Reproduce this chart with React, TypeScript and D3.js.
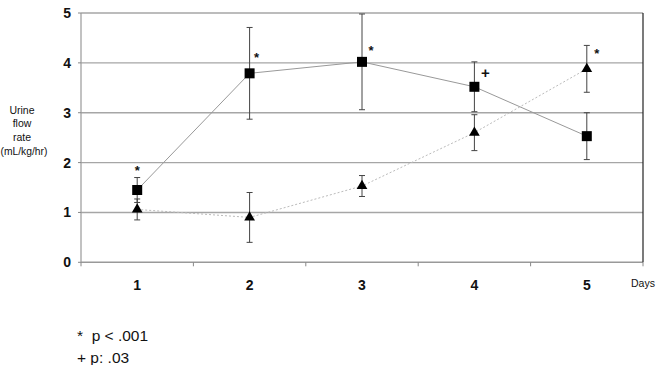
import React from "react";
import * as d3 from "d3";

const days = ["1", "2", "3", "4", "5"];
const squareValues = [1.45, 3.79, 4.02, 3.52, 2.53];
const squareErrors = [0.25, 0.92, 0.96, 0.5, 0.47];
const triangleValues = [1.06, 0.9, 1.53, 2.6, 3.88];
const triangleErrors = [0.21, 0.5, 0.21, 0.36, 0.47];
const yTicks = [0, 1, 2, 3, 4, 5];
const significance = ["*", "*", "*", "+", "*"];
const significanceLevel = [1.84, 4.12, 4.26, 3.8, 4.2];
const footnotes = ["*  p < .001", "+ p: .03"];
const yTitle = ["Urine", "flow", "rate", "(mL/kg/hr)"];

const W = 656;
const H = 365;
const left = 81;
const right = 643;
const top = 13;
const bottom = 262.3;
const sigOffsets = [0, 7, 9, 11, 10];

export default function App() {
  const x = d3.scaleBand().domain(days).range([left, right]).padding(0);
  const y = d3.scaleLinear().domain([0, 5]).range([bottom, top]);
  const cx = (d: string) => (x(d) as number) + x.bandwidth() / 2;

  const line = d3
    .line<number>()
    .x((_, i) => cx(days[i]))
    .y((v) => y(v));

  const tri = d3.symbol().type(d3.symbolTriangle).size(50)() as string;
  const boundaries = days.slice(1).map((d) => x(d) as number);
  const font = "Liberation Sans, Arial, sans-serif";

  return (
    <svg
      width={W}
      height={H}
      style={{ position: "absolute", left: 0, top: 0, background: "#fff" }}
      fontFamily={font}
    >
      {yTicks.slice(1).map((t) => (
        <line key={t} x1={left} x2={right} y1={y(t)} y2={y(t)} stroke="#a6a6a6" strokeWidth={1.4} />
      ))}
      <line x1={left} x2={left} y1={top} y2={bottom} stroke="#999" strokeWidth={1.2} />
      <line x1={left} x2={right} y1={bottom} y2={bottom} stroke="#999" strokeWidth={1.4} />
      <line x1={right} x2={right} y1={top} y2={bottom} stroke="#222" strokeWidth={1.2} />
      {[left, ...boundaries, right].map((b, i) => (
        <line key={i} x1={b} x2={b} y1={bottom} y2={bottom + 4} stroke="#888" strokeWidth={1} />
      ))}
      {yTicks.map((t) => (
        <line key={t} x1={left - 3} x2={left} y1={y(t)} y2={y(t)} stroke="#888" strokeWidth={1} />
      ))}
      {yTicks.map((t) => (
        <text key={t} x={71} y={y(t)} dy="0.36em" textAnchor="end" fontSize={14} fontWeight="bold" fill="#111">
          {t}
        </text>
      ))}
      {days.map((d) => (
        <text key={d} x={cx(d)} y={285} dy="0.36em" textAnchor="middle" fontSize={14} fontWeight="bold" fill="#111">
          {d}
        </text>
      ))}
      <text x={631} y={283} dy="0.36em" fontSize={10.5} fill="#111">
        Days
      </text>
      {yTitle.map((s, i) =>
        i === yTitle.length - 1 ? (
          <text key={s} x={0.5} y={110 + i * 13.7} dy="0.36em" textAnchor="start" fontSize={10.3} fill="#111">
            {s}
          </text>
        ) : (
          <text key={s} x={22} y={110 + i * 13.7} dy="0.36em" textAnchor="middle" fontSize={10.5} fill="#111">
            {s}
          </text>
        )
      )}
      <path d={line(squareValues) as string} fill="none" stroke="#999" strokeWidth={1} />
      <path d={line(triangleValues) as string} fill="none" stroke="#bbb" strokeWidth={1} strokeDasharray="2,2" />
      {[
        { v: squareValues, e: squareErrors },
        { v: triangleValues, e: triangleErrors },
      ].map((s, si) =>
        s.v.map((v, i) => {
          const X = cx(days[i]);
          const y1 = y(v + s.e[i]);
          const y2 = y(v - s.e[i]);
          return (
            <g key={`${si}-${i}`} stroke="#444" strokeWidth={1}>
              <line x1={X} x2={X} y1={y1} y2={y2} />
              <line x1={X - 3} x2={X + 3} y1={y1} y2={y1} />
              <line x1={X - 3} x2={X + 3} y1={y2} y2={y2} />
            </g>
          );
        })
      )}
      {squareValues.map((v, i) => (
        <rect key={i} x={cx(days[i]) - 5} y={y(v) - 5} width={10} height={10} fill="#000" />
      ))}
      {triangleValues.map((v, i) => (
        <path key={i} d={tri} transform={`translate(${cx(days[i])},${y(v)})`} fill="#000" />
      ))}
      {significance.map((s, i) => (
        <text
          key={i}
          x={cx(days[i]) + sigOffsets[i]}
          y={y(significanceLevel[i])}
          dy="0.36em"
          textAnchor="middle"
          fontSize={s === "+" ? 15 : 13}
          fontWeight="bold"
          fill="#111"
        >
          {s}
        </text>
      ))}
      {footnotes.map((f, i) => (
        <text key={i} x={77} y={335 + i * 22} dy="0.36em" fontSize={15.5} fill="#111" xmlSpace="preserve">
          {f}
        </text>
      ))}
    </svg>
  );
}
